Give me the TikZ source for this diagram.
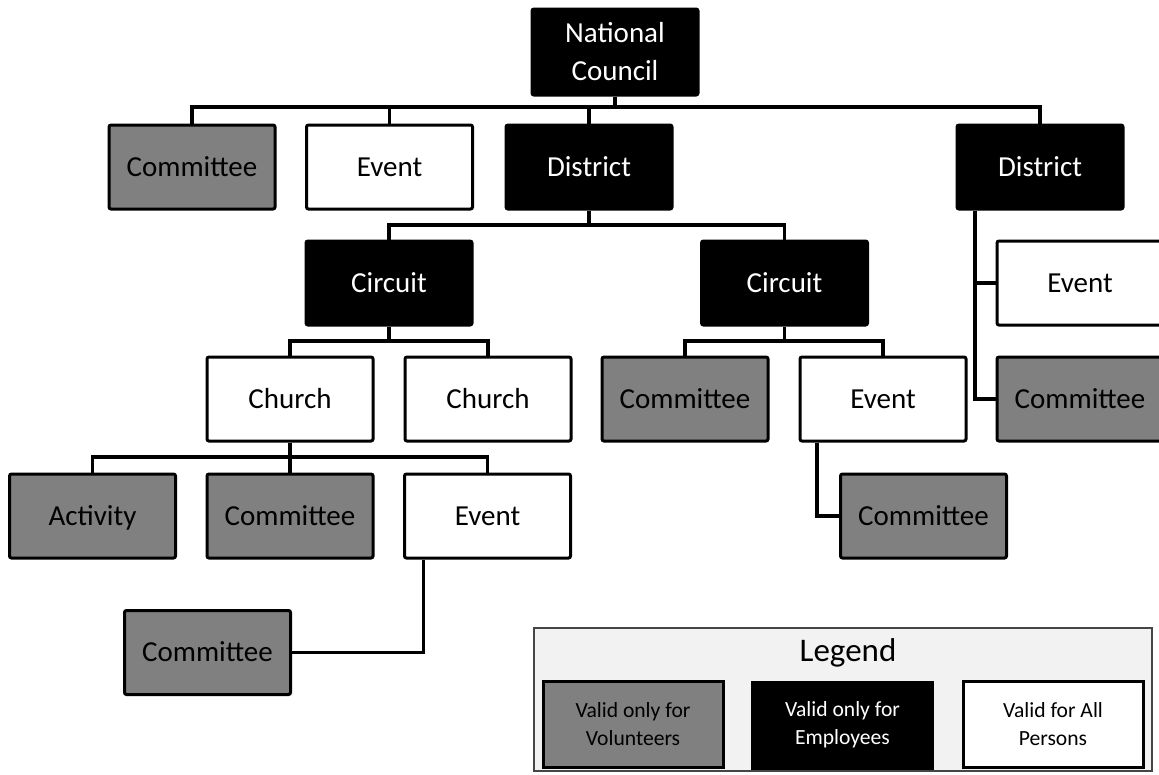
\documentclass[tikz,border=0pt]{standalone}
\usepackage{fontspec}
\setmainfont{Carlito}
\definecolor{boxgray}{RGB}{128,128,128}
\definecolor{legbg}{RGB}{242,242,242}
\definecolor{legline}{RGB}{70,70,70}
\tikzset{
  box/.style={rectangle, rounded corners=2pt, minimum width=166pt, minimum height=84pt,
    line width=3pt, draw=black, inner sep=0pt, align=center,
    text height=22pt, text depth=4pt,
    font=\fontsize{29}{38}\selectfont},
  grayb/.style={box, fill=boxgray, text=black},
  whiteb/.style={box, fill=white, text=black},
  blackb/.style={box, fill=black, text=white},
  conn/.style={line width=3.4pt, draw=black},
  legbox/.style={rectangle, minimum width=180pt, minimum height=86pt, line width=3pt,
    inner sep=0pt, align=center, font=\fontsize{21.6}{28}\selectfont},
}
\begin{document}
\begin{tikzpicture}[x=1pt,y=-1pt]
\useasboundingbox (0,0) rectangle (1159,774);
% nodes
\node[blackb, minimum height=86pt, text height=, text depth=] (nc) at (615,52) {National\\Council};
\node[grayb]  (com1) at (192,167) {Committee};
\node[whiteb] (ev1)  at (389.5,167) {Event};
\node[blackb] (dis1) at (589,167) {District};
\node[blackb] (dis2) at (1040,167) {District};
\node[blackb] (cir1) at (389,283) {Circuit};
\node[blackb] (cir2) at (784.5,283) {Circuit};
\node[whiteb] (ev2)  at (1080,283) {Event};
\node[whiteb] (ch1)  at (290,399) {Church};
\node[whiteb] (ch2)  at (488,399) {Church};
\node[grayb]  (com2) at (685,399) {Committee};
\node[whiteb] (ev3)  at (883,399) {Event};
\node[grayb]  (com3) at (1080,399) {Committee};
\node[grayb]  (act)  at (92.5,516) {Activity};
\node[grayb]  (com4) at (290,516) {Committee};
\node[whiteb] (ev4)  at (487.5,516) {Event};
\node[grayb]  (com5) at (923.5,516) {Committee};
\node[grayb]  (com6) at (207.5,652.5) {Committee};
% bus coordinates
\coordinate (b1) at (615,107);
\coordinate (b2) at (589,225);
\coordinate (b3) at (389,341);
\coordinate (b4) at (784.5,341);
\coordinate (b5) at (290,457);
% connectors
\draw[conn] (nc.south) -- (b1);
\draw[conn] (b1) -| (com1.north);
\draw[conn] (b1) -| (ev1.north);
\draw[conn] (b1) -| (dis1.north);
\draw[conn] (b1) -| (dis2.north);
\draw[conn] (dis1.south) -- (b2);
\draw[conn] (b2) -| (cir1.north);
\draw[conn] (b2) -| (cir2.north);
\draw[conn] (cir1.south) -- (b3);
\draw[conn] (b3) -| (ch1.north);
\draw[conn] (b3) -| (ch2.north);
\draw[conn] (cir2.south) -- (b4);
\draw[conn] (b4) -| (com2.north);
\draw[conn] (b4) -| (ev3.north);
\draw[conn] (ch1.south) -- (b5);
\draw[conn] (b5) -| (act.north);
\draw[conn] (b5) -| (com4.north);
\draw[conn] (b5) -| (ev4.north);
\draw[conn] ([xshift=-65pt]dis2.south) |- (ev2.west);
\draw[conn] ([xshift=-65pt]dis2.south) |- (com3.west);
\draw[conn] ([xshift=-66pt]ev3.south) |- (com5.west);
\draw[conn] ([xshift=-64pt]ev4.south) |- (com6.east);
% legend
\node[rectangle, minimum width=618pt, minimum height=143pt, fill=legbg, draw=legline,
  line width=1.2pt, inner sep=0pt] (leg) at (843,699.5) {};
\node[font=\fontsize{33}{40}\selectfont, inner sep=0pt] (legt) at (848,653) {Legend};
\node[legbox, fill=boxgray, draw=black, text=black] (lg1) at (633,724) {Valid only for\\Volunteers};
\node[legbox, fill=black, draw=black, text=white] (lg2) at (842.5,725) {Valid only for\\Employees};
\node[legbox, fill=white, draw=black, text=black] (lg3) at (1053,724) {Valid for All\\Persons};
\end{tikzpicture}
\end{document}
